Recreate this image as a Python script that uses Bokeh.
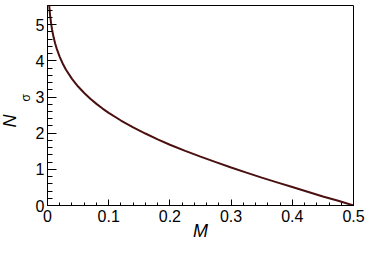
import numpy as np
from bokeh.plotting import figure
from bokeh.models import Range1d, FixedTicker, Title
from bokeh.embed import file_html
from bokeh.resources import INLINE

# data
M_values = [0.0028, 0.0032, 0.0036, 0.004, 0.005, 0.006, 0.0075, 0.01, 0.0125, 0.015,
            0.02, 0.025, 0.03, 0.04, 0.05, 0.06, 0.07, 0.08, 0.09, 0.10, 0.12,
            0.14, 0.16, 0.18, 0.20, 0.225, 0.25, 0.275, 0.30, 0.325, 0.35,
            0.375, 0.40, 0.425, 0.45, 0.475, 0.50]
N_values = [5.53, 5.45, 5.38, 5.30, 5.15, 5.02, 4.86, 4.65, 4.48, 4.34,
            4.11, 3.92, 3.76, 3.50, 3.29, 3.11, 2.95, 2.81, 2.68, 2.56, 2.35,
            2.16, 1.99, 1.83, 1.68, 1.51, 1.35, 1.20, 1.05, 0.91, 0.77,
            0.64, 0.51, 0.38, 0.25, 0.13, 0.0]

x_major = [0, 0.1, 0.2, 0.3, 0.4, 0.5]
x_labels = ["0", "0.1", "0.2", "0.3", "0.4", "0.5"]
y_major = [0, 1, 2, 3, 4, 5]
y_labels = ["0", "1", "2", "3", "4", "5"]
x_title = "M"
y_title_main = "N"
y_title_sub = "σ"

FONT = "Liberation Sans"

p = figure(width=366, height=243, output_backend="svg", toolbar_location=None,
           x_range=Range1d(0, 0.5), y_range=Range1d(0, 5.53),
           min_border_left=10, min_border_right=13, min_border_top=5,
           min_border_bottom=0)
p.background_fill_color = "white"
p.border_fill_color = "white"
p.outline_line_color = "black"
p.outline_line_width = 1
p.xgrid.visible = False
p.ygrid.visible = False

x_minor = [round(v, 3) for v in np.arange(0, 0.5001, 0.02)]
y_minor = [round(v, 2) for v in np.arange(0, 5.53, 0.2)]

p.xaxis.ticker = FixedTicker(ticks=x_major, minor_ticks=x_minor)
p.yaxis.ticker = FixedTicker(ticks=y_major, minor_ticks=y_minor)
p.xaxis.major_label_overrides = {v: s for v, s in zip(x_major, x_labels)}
p.yaxis.major_label_overrides = {v: s for v, s in zip(y_major, y_labels)}

for ax in (p.xaxis, p.yaxis):
    ax.axis_line_color = "black"
    ax.major_tick_line_color = "black"
    ax.minor_tick_line_color = "black"
    ax.major_tick_out = 0
    ax.minor_tick_out = 0
    ax.major_label_text_font = FONT
    ax.major_label_text_font_size = "16px"
    ax.major_label_text_color = "black"

p.xaxis.major_tick_in = 6
p.xaxis.minor_tick_in = 3
p.yaxis.major_tick_in = 9
p.yaxis.minor_tick_in = 5
p.xaxis.major_label_standoff = 4
p.yaxis.major_label_standoff = 3

p.xaxis.axis_label = x_title
p.xaxis.axis_label_text_font = FONT
p.xaxis.axis_label_text_font_size = "18px"
p.xaxis.axis_label_text_font_style = "italic"
p.xaxis.axis_label_text_color = "black"
p.xaxis.axis_label_standoff = -4

p.line(M_values, N_values, line_color="#4a1010", line_width=2)

# y-axis title: N with subscript sigma (sigma column is closer to the axis)
p.add_layout(Title(text=y_title_sub, text_font=FONT, text_font_size="12px",
                   text_font_style="normal", align="left", offset=104,
                   standoff=0, text_color="black"), "left")
p.add_layout(Title(text=y_title_main, text_font=FONT, text_font_size="18px",
                   text_font_style="italic", align="left", offset=78,
                   standoff=-6, text_color="black"), "left")

open("out.html", "w").write(file_html(p, INLINE))
